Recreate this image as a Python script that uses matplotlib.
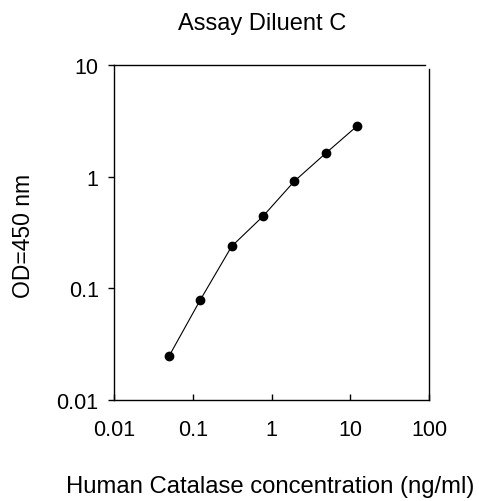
import matplotlib
matplotlib.use('Agg')
import matplotlib.pyplot as plt
from matplotlib.ticker import FixedLocator, FixedFormatter, NullLocator

# concentration (ng/ml) and OD at 450 nm
conc = [0.05, 0.125, 0.3125, 0.78, 1.95, 4.88, 12.2]
od = [0.0247, 0.079, 0.238, 0.442, 0.91, 1.62, 2.84]

x_ticks = [0.01, 0.1, 1, 10, 100]
x_labels = ['0.01', '0.1', '1', '10', '100']
y_ticks = [0.01, 0.1, 1, 10]
y_labels = ['0.01', '0.1', '1', '10']

plt.rcParams['font.family'] = ['Liberation Sans', 'DejaVu Sans']

W, H = 479, 502
fig = plt.figure(figsize=(W / 100, H / 100), dpi=100)
ax = fig.add_axes([114 / W, 1 - 401 / H, (429 - 114) / W, (401 - 66) / H])

ax.plot(conc, od, color='black', lw=0.8, marker='o', ms=6,
        mfc='black', mec='black')

ax.set_xscale('log')
ax.set_yscale('log')
ax.set_xlim(0.01, 100)
ax.set_ylim(0.01, 10)

ax.xaxis.set_major_locator(FixedLocator(x_ticks))
ax.xaxis.set_major_formatter(FixedFormatter(x_labels))
ax.yaxis.set_major_locator(FixedLocator(y_ticks))
ax.yaxis.set_major_formatter(FixedFormatter(y_labels))
ax.xaxis.set_minor_locator(NullLocator())
ax.yaxis.set_minor_locator(NullLocator())

ax.tick_params(axis='x', direction='in', length=4, width=1, labelsize=15.5, pad=14)
ax.tick_params(axis='y', direction='out', length=4, width=1, labelsize=15.5, pad=7)

for s in ax.spines.values():
    s.set_linewidth(1)
ax.spines['top'].set_bounds(0.01, 89)
ax.spines['right'].set_bounds(0.01, 9.3)

fig.text(262 / W, 1 - 30 / H, 'Assay Diluent C', ha='center', va='baseline',
         fontsize=17)
fig.text(270 / W, 1 - 493 / H, 'Human Catalase concentration (ng/ml)',
         ha='center', va='baseline', fontsize=17.2)
fig.text(24 / W, 1 - 236 / H, 'OD=450 nm', rotation=90, ha='center',
         va='center', fontsize=16.5)

fig.savefig('out.png', dpi=100)
